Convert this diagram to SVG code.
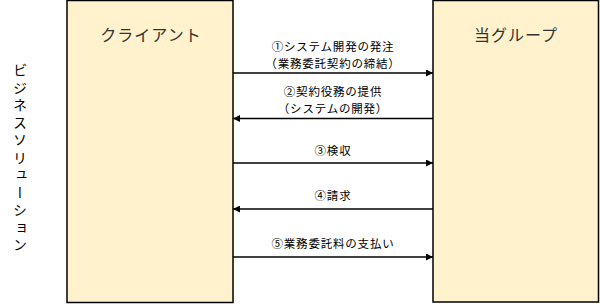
<svg xmlns="http://www.w3.org/2000/svg" width="600" height="304" viewBox="0 0 600 304">
<style>
.box{fill:#FFF2CC;stroke:#000;stroke-width:1.5}
.title{font-family:"Noto Sans CJK JP",sans-serif;font-size:16px;fill:#333;text-anchor:middle;letter-spacing:1px}
.lbl{font-family:"Noto Sans CJK JP",sans-serif;font-size:11.5px;fill:#000;text-anchor:middle;letter-spacing:0.8px}
.side{font-family:"Noto Sans CJK JP",sans-serif;font-size:14px;fill:#000}
.conn{stroke:#000;stroke-width:1.3;fill:none}
</style>
<defs>
<marker id="ah" viewBox="0 0 10 10" refX="10" refY="5" markerWidth="7" markerHeight="7" markerUnits="userSpaceOnUse" orient="auto">
<path d="M0,0 L10,5 L0,10 z" fill="#000"/>
</marker>
</defs>
<rect width="600" height="304" fill="#fff"/>
<text class="side" x="20" y="63" writing-mode="tb" letter-spacing="3.5">ビジネスソリューション</text>
<g id="client">
<rect class="box" x="67" y="0.5" width="166" height="302"/>
<text class="title" x="151" y="41">クライアント</text>
</g>
<g id="group">
<rect class="box" x="433" y="0.5" width="165.5" height="301.5"/>
<text class="title" x="516" y="41">当グループ</text>
</g>
<g id="connectors">
<line class="conn" x1="233" y1="73" x2="433" y2="73" marker-end="url(#ah)"/>
<line class="conn" x1="433" y1="118.5" x2="233" y2="118.5" marker-end="url(#ah)"/>
<line class="conn" x1="233" y1="163" x2="433" y2="163" marker-end="url(#ah)"/>
<line class="conn" x1="433" y1="209" x2="233" y2="209" marker-end="url(#ah)"/>
<line class="conn" x1="233" y1="257" x2="433" y2="257" marker-end="url(#ah)"/>
<text class="lbl" x="333" y="50.8">①システム開発の発注</text>
<text class="lbl" x="333" y="67.8">（業務委託契約の締結）</text>
<text class="lbl" x="333" y="95.8">②契約役務の提供</text>
<text class="lbl" x="333" y="112.8">（システムの開発）</text>
<text class="lbl" x="333" y="155">③検収</text>
<text class="lbl" x="333" y="200">④請求</text>
<text class="lbl" x="333" y="248">⑤業務委託料の支払い</text>
</g>
</svg>
